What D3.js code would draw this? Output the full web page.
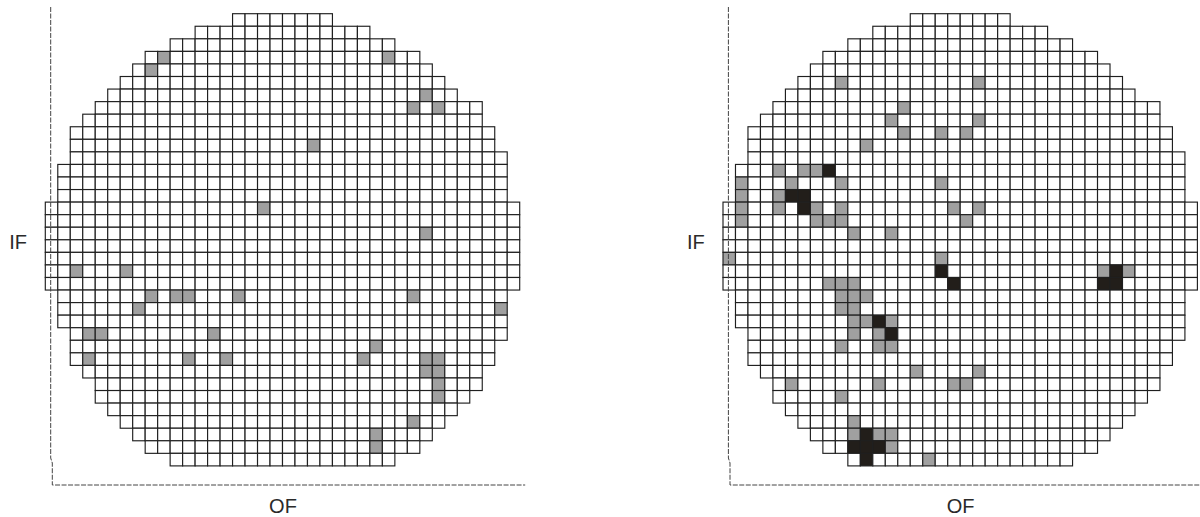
<!DOCTYPE html>
<html>
<head>
<meta charset="utf-8">
<script src="https://cdnjs.cloudflare.com/ajax/libs/d3/7.8.5/d3.min.js"></script>
<style>
  body { margin: 0; background: #fff; }
  svg { display: block; }
  .lbl { font-family: "Liberation Sans", Arial, sans-serif; font-size: 20px; fill: #2a2a2a; }
</style>
</head>
<body>
<div id="chart"></div>
<script>
// wafer outline: first column and end column (exclusive) of every row
const rowStart = [15,12,10,8,7,6,5,4,3,2,2,2,1,1,1,0,0,0,0,0,0,0,1,1,1,2,2,2,3,4,4,5,6,7,8,10];
const rowEnd   = [23,26,28,30,31,32,33,35,35,36,36,37,37,37,37,38,38,38,38,38,38,38,37,37,37,37,36,36,35,35,34,33,32,31,30,28];

// defect dies as [row, col]
const waferAGray = [
  [3,9],[4,8],[3,27],[6,30],[7,29],[7,31],[10,21],[15,17],[17,30],
  [20,2],[20,6],[22,8],[22,10],[22,11],[22,15],[22,29],[23,7],[23,36],
  [25,3],[25,4],[25,13],[26,26],[27,3],[27,11],[27,14],[27,25],
  [27,30],[27,31],[28,30],[28,31],[29,31],[30,31],[32,29],[33,26],[34,26]
];
const waferBGray = [
  [5,9],[5,20],[7,14],[8,13],[8,20],[9,14],[9,17],[9,19],[10,11],
  [12,4],[12,6],[12,7],[13,1],[13,5],[13,9],[13,17],[14,1],[14,4],
  [15,1],[15,4],[15,7],[15,9],[15,18],[15,20],[16,1],[16,7],[16,8],[16,9],[16,19],
  [17,10],[17,13],[19,0],[19,17],[20,30],[20,32],
  [21,8],[21,9],[21,10],[22,9],[22,10],[22,11],[23,9],[23,10],
  [24,10],[24,11],[24,13],[25,10],[25,12],[26,9],[26,12],[26,13],
  [28,15],[28,20],[29,5],[29,12],[29,18],[29,19],[30,9],
  [32,10],[33,10],[33,12],[33,13],[34,13],[35,16]
];
const waferBBlack = [
  [12,8],[14,5],[14,6],[15,6],[20,17],[21,18],[20,31],[21,30],[21,31],
  [24,12],[25,13],[33,11],[34,10],[34,11],[34,12],[35,11]
];

const W = 1200, H = 517;
const nCols = 38, nRows = 36;
const gridW = 474.4, gridH = 452.2;
const grayFill = "#a0a0a0", blackFill = "#221e1a";

const svg = d3.select("#chart").append("svg")
  .attr("width", W)
  .attr("height", H);

const x = d3.scaleLinear().domain([0, nCols]).range([0, gridW]);
const y = d3.scaleLinear().domain([0, nRows]).range([0, gridH]);

function drawWafer(left, top, gray, black) {
  const status = new Map();
  gray.forEach(([r, c]) => status.set(r + "," + c, grayFill));
  black.forEach(([r, c]) => status.set(r + "," + c, blackFill));

  const cells = [];
  rowStart.forEach((s, r) => {
    for (let c = s; c < rowEnd[r]; c++) {
      cells.push({ r, c, fill: status.get(r + "," + c) || "#fff" });
    }
  });

  const g = svg.append("g").attr("transform", `translate(${left},${top})`);

  g.selectAll("rect")
    .data(cells)
    .enter()
    .append("rect")
    .attr("x", d => x(d.c))
    .attr("y", d => y(d.r))
    .attr("width", d => x(d.c + 1) - x(d.c))
    .attr("height", d => y(d.r + 1) - y(d.r))
    .attr("fill", d => d.fill)
    .attr("stroke", "#1f1f1f")
    .attr("stroke-width", 1.15);

  // dashed frame (left and bottom)
  const ax = left + 5.4, bottom = 485;
  svg.append("path")
    .attr("d", `M${ax},7 V458 L${ax + 1.6},463 V${bottom} H${left + gridW + 5.5}`)
    .attr("fill", "none")
    .attr("stroke", "#444")
    .attr("stroke-width", 1)
    .attr("stroke-dasharray", "5,1.5");

  svg.append("text")
    .attr("class", "lbl")
    .attr("x", left - 36)
    .attr("y", 249)
    .text("IF");

  svg.append("text")
    .attr("class", "lbl")
    .attr("x", left + gridW / 2 + 0.5)
    .attr("y", 512.5)
    .attr("text-anchor", "middle")
    .text("OF");
}

drawWafer(45.3, 13.7, waferAGray, []);
drawWafer(723, 13.7, waferBGray, waferBBlack);
</script>
</body>
</html>
